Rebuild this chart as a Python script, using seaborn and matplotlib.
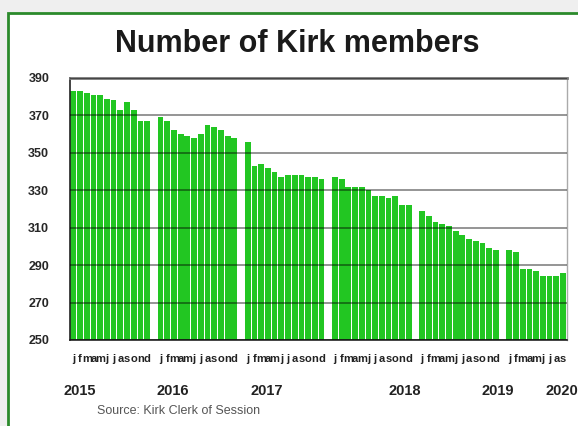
import matplotlib
matplotlib.use('Agg')
import matplotlib.pyplot as plt
from matplotlib.patches import Rectangle
import seaborn as sns
import pandas as pd
import numpy as np

# membership per month (Jan..Dec)
years = [2015, 2016, 2017, 2018, 2019, 2020]
members_2015 = [383, 383, 382, 381, 381, 379, 378, 373, 377, 373, 367, 367]
members_2016 = [369, 367, 362, 360, 359, 358, 360, 365, 364, 362, 359, 358]
members_2017 = [356, 343, 344, 342, 340, 337, 338, 338, 338, 337, 337, 336]
members_2018 = [337, 336, 332, 332, 332, 330, 327, 327, 326, 327, 322, 322]
members_2019 = [319, 316, 313, 312, 311, 308, 306, 304, 303, 302, 299, 298]
members_2020 = [298, 297, 288, 288, 287, 284, 284, 284, 286]
month_letters = ['j', 'f', 'm', 'a', 'm', 'j', 'j', 'a', 's', 'o', 'n', 'd']
yticks = [250, 270, 290, 310, 330, 350, 370, 390]

all_members = [members_2015, members_2016, members_2017,
               members_2018, members_2019, members_2020]

# one category per month, plus an empty slot between years
order = []
labels = []
rows = []
for y, vals in zip(years, all_members):
    for m, v in enumerate(vals):
        key = f'{y}-{m+1:02d}'
        order.append(key)
        labels.append(month_letters[m])
        rows.append({'slot': key, 'members': v})
    if len(vals) == 12:
        order.append(f'{y}-gap')
        labels.append('')
df = pd.DataFrame(rows)

sns.set_style('white')
plt.rcParams['font.family'] = ['Liberation Sans', 'DejaVu Sans']

fig = plt.figure(figsize=(5.78, 4.26), dpi=100)
fig.patch.set_facecolor('#efefef')
fig.patches.append(Rectangle((8/578, -0.05), 1.0, 1 - 13/426 + 0.05,
                             transform=fig.transFigure, facecolor='white',
                             edgecolor='#2b8a2b', linewidth=2, zorder=-1))

ax = fig.add_axes([70/578, (426-340)/426, 497/578, 262/426])
ax.set_zorder(2)
sns.barplot(data=df, x='slot', y='members', order=order, color='#22c622',
            saturation=1, width=0.86, linewidth=0, ax=ax)

ax.set_ylim(250, 390)
ax.set_xlim(-0.5, 73.6)
ax.set_yticks(yticks)
ax.set_yticklabels([str(t) for t in yticks], fontsize=9, fontweight='bold')
ax.set_xticks(range(len(order)))
ax.set_xticklabels(labels, fontsize=8, fontweight='bold', color='#222222')
ax.tick_params(axis='y', length=0, pad=15)
ax.tick_params(axis='x', length=3, direction='in', color='#1a5a1a', pad=10)
ax.set_xlabel('')
ax.set_ylabel('')

ax.yaxis.grid(True, color='black', alpha=0.45, linewidth=1.3)
ax.set_axisbelow(False)
for s in ['left', 'bottom']:
    ax.spines[s].set_color('#222222')
    ax.spines[s].set_linewidth(1.2)
ax.spines['top'].set_color('#777777')
ax.spines['top'].set_linewidth(2)
ax.spines['right'].set_color('#aaaaaa')
ax.spines['right'].set_linewidth(1)

# year labels under the month letters
year_pos = [0.9, 14.8, 28.8, 49.4, 63.3, 72.9]
for y, xp in zip(years, year_pos):
    ax.text(xp, -0.195, str(y), transform=ax.get_xaxis_transform(),
            ha='center', va='center', fontsize=10.5, fontweight='bold',
            color='#222222', clip_on=False)

fig.text(297/578, 1 - 44/426, 'Number of Kirk members', ha='center',
         va='center', fontsize=22, fontweight='bold', color='#1a1a1a')
fig.text(97/578, 1 - 411/426, 'Source: Kirk Clerk of Session', ha='left',
         va='center', fontsize=9, color='#555555')

fig.savefig('out.png', dpi=100, facecolor=fig.get_facecolor())
